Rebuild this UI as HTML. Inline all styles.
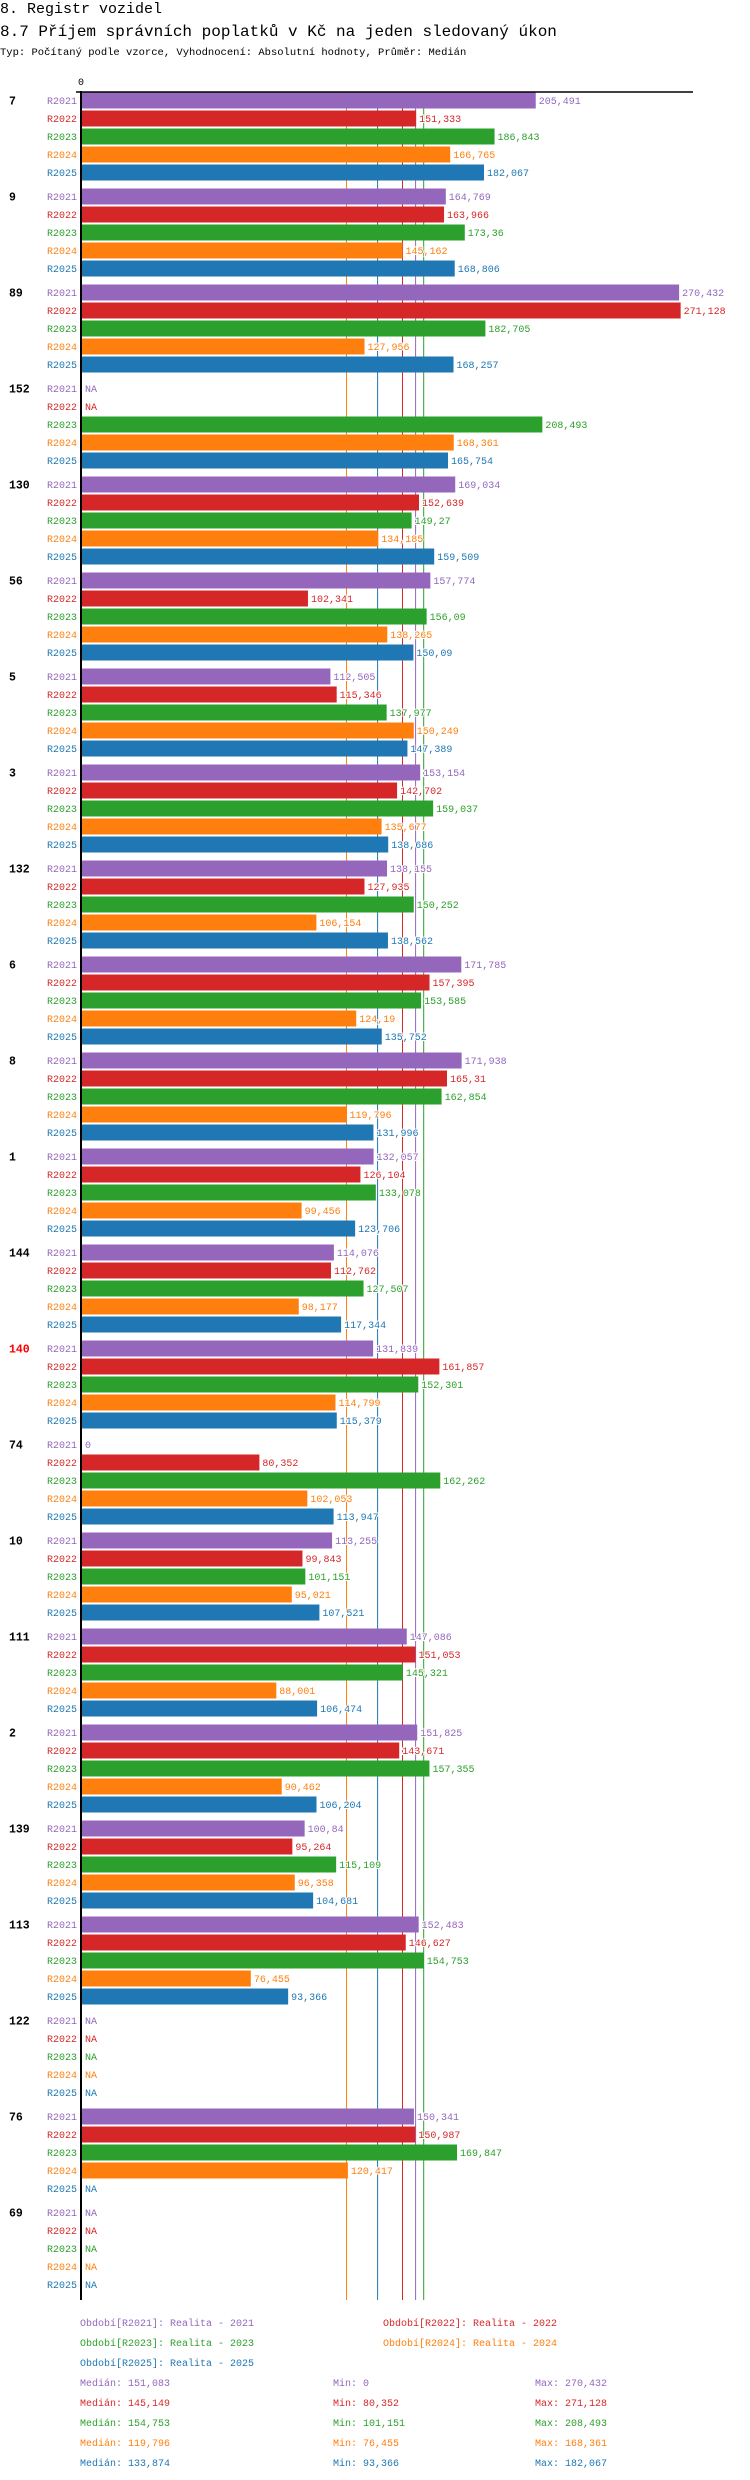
<!DOCTYPE html>
<html><head><meta charset="utf-8"><style>
html,body{margin:0;padding:0;background:#fff;width:750px;height:2480px;overflow:hidden}
svg text{font-family:"Liberation Mono",monospace}
</style></head><body>
<svg id="chart" width="750" height="2480" viewBox="0 0 750 2480" xmlns="http://www.w3.org/2000/svg">
<text x="0" y="13" font-size="15" fill="#000">8. Registr vozidel</text>
<text x="0" y="36" font-size="16" fill="#000">8.7 Příjem správních poplatků v Kč na jeden sledovaný úkon</text>
<text x="0" y="55" font-size="10.5" fill="#000">Typ: Počítaný podle vzorce, Vyhodnocení: Absolutní hodnoty, Průměr: Medián</text>
<g id="medians"></g><g id="bars"></g><g id="labels"></g><g id="axis"></g><g id="legend"></g>
</svg>
<script>
const groups = ["7","9","89","152","130","56","5","3","132","6","8","1","144","140","74","10","111","2","139","113","122","76","69"];
const series = ["R2021","R2022","R2023","R2024","R2025"];
const r2021 = [205491,164769,270432,null,169034,157774,112505,153154,138155,171785,171938,132057,114076,131839,0,113255,147086,151825,100840,152483,null,150341,null];
const r2022 = [151333,163966,271128,null,152639,102341,115346,142702,127935,157395,165310,126104,112762,161857,80352,99843,151053,143671,95264,146627,null,150987,null];
const r2023 = [186843,173360,182705,208493,149270,156090,137977,159037,150252,153585,162854,133078,127507,152301,162262,101151,145321,157355,115109,154753,null,169847,null];
const r2024 = [166765,145162,127956,168361,134185,138265,150249,135677,106154,124190,119796,99456,98177,114799,102053,95021,88001,90462,96358,76455,null,120417,null];
const r2025 = [182067,168806,168257,165754,159509,150090,147389,138686,138562,135752,131996,123706,117344,115379,113947,107521,106474,106204,104681,93366,null,null,null];
const medians = [151083,145149,154753,119796,133874];
const mins = [0,80352,101151,76455,93366];
const maxs = [270432,271128,208493,168361,182067];
const legendNames = ["Realita - 2021","Realita - 2022","Realita - 2023","Realita - 2024","Realita - 2025"];
const colors = ["#9467bd","#d62728","#2ca02c","#ff7f0e","#1f77b4"];
const highlightGroup = "140";

const NS = "http://www.w3.org/2000/svg";
const X0 = 82, PX = 0.002208, TOP = 92.5, GP = 96, BP = 18, BH = 16;
const xs = v => X0 + v * PX;
const gy = g => TOP + g * GP;
const fmt = v => String(v / 1000).replace('.', ',');
function mk(tag, attrs, parent, txt){const e=document.createElementNS(NS,tag);for(const k in attrs)e.setAttribute(k,attrs[k]);if(txt!==undefined)e.textContent=txt;parent.appendChild(e);return e;}
const all = [r2021,r2022,r2023,r2024,r2025];
const gM = document.getElementById('medians'), gB = document.getElementById('bars'), gL = document.getElementById('labels'), gA = document.getElementById('axis'), gG = document.getElementById('legend');
const yEnd = 2300;
medians.forEach((m,i)=>{
  const l = mk('line',{x1:xs(m),x2:xs(m),y1:TOP,y2:yEnd,stroke:colors[i],'stroke-width':1},gM);
  
  
});
groups.forEach((g,gi)=>{
  const t = mk('text',{x:9,y:gy(gi)+12,'font-size':11.5,'font-weight':'bold',fill:g===highlightGroup?'#ff0000':'#000'},gL,g);
  
  
  series.forEach((s,si)=>{
    const v = all[si][gi];
    const y = gy(gi) + si*BP;
    const sl = mk('text',{x:77,y:y+11.5,'font-size':10,fill:colors[si],'text-anchor':'end'},gL,s);
    
    
    let lx = 85, txt = 'NA';
    if (v !== null) {
      if (v > 0) {
        const r = mk('rect',{x:X0,y:y,width:xs(v)-X0,height:BH,fill:colors[si]},gB);
        
        
        lx = xs(v) + 3;
      }
      txt = fmt(v);
    }
    const vl = mk('text',{x:lx,y:y+11.5,'font-size':10,fill:colors[si],stroke:'#fff','stroke-width':2,'paint-order':'stroke'},gL,txt);
    
    
  });
});
const ax = mk('line',{x1:81,x2:81,y1:91,y2:yEnd,stroke:'#000','stroke-width':2},gA);


const axt = mk('line',{x1:76,x2:693,y1:92,y2:92,stroke:'#000','stroke-width':1.5},gA);


const zt = mk('text',{x:81,y:85,'font-size':10,'text-anchor':'middle',fill:'#000'},gA,'0');


const legPos = [[80,2326],[383,2326],[80,2346],[383,2346],[80,2366]];
series.forEach((s,i)=>{
  const t = mk('text',{x:legPos[i][0],y:legPos[i][1],'font-size':10,fill:colors[i]},gG,'Období['+s+']: '+legendNames[i]);
  
  
  const y = 2386 + i*20;
  const a = mk('text',{x:80,y:y,'font-size':10,fill:colors[i]},gG,'Medián: '+fmt(medians[i]));
  
  
  const b = mk('text',{x:333,y:y,'font-size':10,fill:colors[i]},gG,'Min: '+fmt(mins[i]));
  
  
  const c = mk('text',{x:535,y:y,'font-size':10,fill:colors[i]},gG,'Max: '+fmt(maxs[i]));
  
  
});
</script>
</body></html>
